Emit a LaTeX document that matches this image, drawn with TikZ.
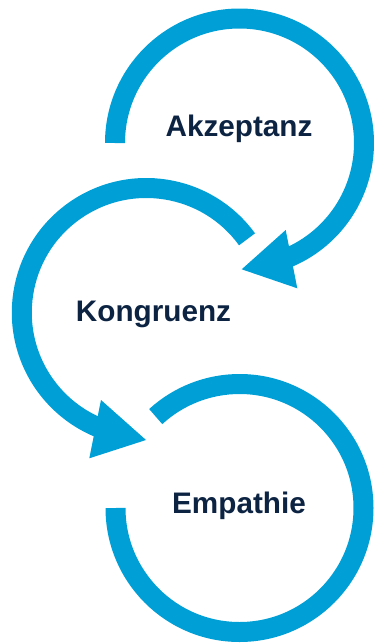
\documentclass[tikz,border=0pt]{standalone}
\usepackage{fontspec}
\setmainfont{Liberation Sans}
\definecolor{ringblue}{RGB}{0,159,214}
\definecolor{textnavy}{RGB}{12,35,66}
\begin{document}
\begin{tikzpicture}[x=1pt,y=1pt,
  ring/.style={draw=ringblue,line width=20pt,line cap=butt},
  tip/.style={fill=ringblue,draw=none},
  label/.style={text=textnavy,font=\fontsize{29.7}{34}\selectfont\bfseries,anchor=base,inner sep=0pt}]
\useasboundingbox (0,0) rectangle (374,-643);
% ring 1 (Akzeptanz)
\coordinate (c1) at (239.5,-143);
\draw[ring] ([shift={(180:124.5)}]c1) arc[start angle=180,end angle=-67,radius=124.5];
\fill[tip] (285.7,-230) -- (297.3,-288.3) -- (241.7,-269.3) -- cycle;
% ring 2 (Kongruenz)
\coordinate (c2) at (146.3,-312.5);
\draw[ring] ([shift={(36:124.5)}]c2) arc[start angle=36,end angle=247.5,radius=124.5];
\fill[tip] (101,-400) -- (89.3,-458.3) -- (146,-440) -- cycle;
% ring 3 (Empathie)
\coordinate (c3) at (239.5,-508);
\draw[ring] ([shift={(180:124)}]c3) arc[start angle=180,end angle=492.5,radius=124];
% labels
\node[label] (akz) at (239,-136.7) {Akzeptanz};
\node[label] (kon) at (153.5,-321.7) {Kongruenz};
\node[label] (emp) at (239,-513) {Empathie};
\end{tikzpicture}
\end{document}
